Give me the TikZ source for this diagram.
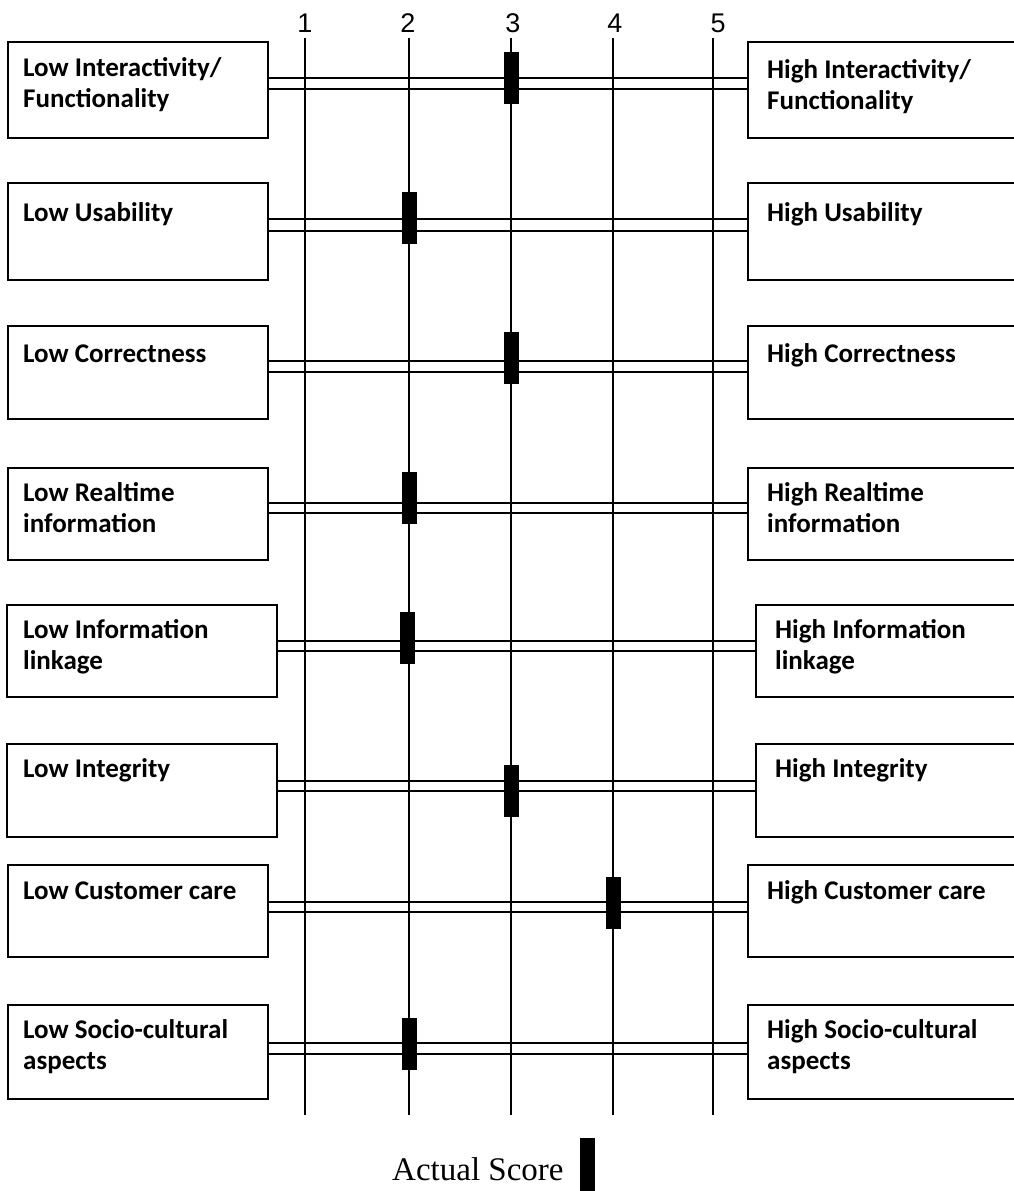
\documentclass[tikz,border=0pt]{standalone}
\usepackage{fontspec}
\setmainfont{Liberation Serif}
\newfontfamily\boxfont{Carlito}[Scale=1.0]
\newfontfamily\numfamily{Liberation Sans}
\newcommand{\twol}[2]{\vtop{\baselineskip=31pt\hbox{#1}\hbox{#2}}}
\tikzset{
  box/.style={draw, line width=2.2pt, minimum height=94pt, inner sep=0pt},
  lbox/.style={box, minimum width=260pt},
  rbox/.style={box, minimum width=272pt},
  lbl/.style={anchor=base west, inner sep=0pt, font=\boxfont\bfseries\fontsize{27}{31}\selectfont},
  axisline/.style={line width=2.7pt},
  rail/.style={line width=2.2pt},
  scorebar/.style={fill=black, draw=none, minimum width=15pt, minimum height=52pt, inner sep=0pt},
  num/.style={inner sep=0pt, font=\numfamily\fontsize{27}{30}\selectfont}
}
\begin{document}
\begin{tikzpicture}[x=1pt,y=-1pt]
\useasboundingbox[fill=white] (0,0) rectangle (1013,1191);

% boxes
\node[lbox, minimum height=96pt] (L1) at (138,90) {};
\node[rbox, minimum height=96pt] (R1) at (884,90) {};
\node[lbox, minimum height=97pt] (L2) at (138,231.5) {};
\node[rbox, minimum height=97pt] (R2) at (884,231.5) {};
\node[lbox, minimum height=93pt] (L3) at (138,372.5) {};
\node[rbox, minimum height=93pt] (R3) at (884,372.5) {};
\node[lbox, minimum height=92pt] (L4) at (138,514) {};
\node[rbox, minimum height=92pt] (R4) at (884,514) {};
\node[lbox, minimum height=92pt, minimum width=270pt] (L5) at (142,651) {};
\node[rbox, minimum height=92pt, minimum width=264pt] (R5) at (888,651) {};
\node[lbox, minimum height=93pt, minimum width=270pt] (L6) at (142,790.5) {};
\node[rbox, minimum height=93pt, minimum width=264pt] (R6) at (888,790.5) {};
\node[lbox, minimum height=92pt] (L7) at (138,911) {};
\node[rbox, minimum height=92pt] (R7) at (884,911) {};
\node[lbox, minimum height=94pt] (L8) at (138,1052) {};
\node[rbox, minimum height=94pt] (R8) at (884,1052) {};

% labels
\node[lbl] (tL1) at (23,76) {\twol{Low Interactivity/}{Functionality}};
\node[lbl] (tR1) at (767,78) {\twol{High Interactivity/}{Functionality}};
\node[lbl] (tL2) at (23,221) {Low Usability};
\node[lbl] (tR2) at (767,221) {High Usability};
\node[lbl] (tL3) at (23,362) {Low Correctness};
\node[lbl] (tR3) at (767,362) {High Correctness};
\node[lbl] (tL4) at (23,501) {\twol{Low Realtime}{information}};
\node[lbl] (tR4) at (767,501) {\twol{High Realtime}{information}};
\node[lbl] (tL5) at (23,638) {\twol{Low Information}{linkage}};
\node[lbl] (tR5) at (775,638) {\twol{High Information}{linkage}};
\node[lbl] (tL6) at (23,777) {Low Integrity};
\node[lbl] (tR6) at (775,777) {High Integrity};
\node[lbl] (tL7) at (23,899) {Low Customer care};
\node[lbl] (tR7) at (767,899) {High Customer care};
\node[lbl] (tL8) at (23,1038) {\twol{Low Socio-cultural}{aspects}};
\node[lbl] (tR8) at (767,1038) {\twol{High Socio-cultural}{aspects}};

% double rails
\draw[rail] ([yshift=12pt]L1.east) -- ([yshift=12pt]R1.west);
\draw[rail] ([yshift=1pt]L1.east) -- ([yshift=1pt]R1.west);
\draw[rail] ([yshift=12.5pt]L2.east) -- ([yshift=12.5pt]R2.west);
\draw[rail] ([yshift=0.5pt]L2.east) -- ([yshift=0.5pt]R2.west);
\draw[rail] ([yshift=11.5pt]L3.east) -- ([yshift=11.5pt]R3.west);
\draw[rail] ([yshift=0.5pt]L3.east) -- ([yshift=0.5pt]R3.west);
\draw[rail] ([yshift=11pt]L4.east) -- ([yshift=11pt]R4.west);
\draw[rail] ([yshift=1pt]L4.east) -- ([yshift=1pt]R4.west);
\draw[rail] ([yshift=10pt]L5.east) -- ([yshift=10pt]R5.west);
\draw[rail] ([yshift=0pt]L5.east) -- ([yshift=0pt]R5.west);
\draw[rail] ([yshift=9.5pt]L6.east) -- ([yshift=9.5pt]R6.west);
\draw[rail] ([yshift=-0.5pt]L6.east) -- ([yshift=-0.5pt]R6.west);
\draw[rail] ([yshift=9pt]L7.east) -- ([yshift=9pt]R7.west);
\draw[rail] ([yshift=-1pt]L7.east) -- ([yshift=-1pt]R7.west);
\draw[rail] ([yshift=9pt]L8.east) -- ([yshift=9pt]R8.west);
\draw[rail] ([yshift=-2pt]L8.east) -- ([yshift=-2pt]R8.west);

% scale numbers and axes
\node[num] (n1) at (305,23) {1};
\node[num] (n2) at (408,23) {2};
\node[num] (n3) at (513,23) {3};
\node[num] (n4) at (615,23) {4};
\node[num] (n5) at (718,23) {5};
\coordinate (a1) at (305,38);  \coordinate (b1) at (305,1115);
\coordinate (a2) at (409,38);  \coordinate (b2) at (409,1115);
\coordinate (a3) at (511,38);  \coordinate (b3) at (511,1115);
\coordinate (a4) at (613,38);  \coordinate (b4) at (613,1115);
\coordinate (a5) at (713,38);  \coordinate (b5) at (713,1115);
\draw[axisline] (a1) -- (b1);
\draw[axisline] (a2) -- (b2);
\draw[axisline] (a3) -- (b3);
\draw[axisline] (a4) -- (b4);
\draw[axisline] (a5) -- (b5);

% actual scores
\node[scorebar] (M1) at (511,77.5) {};
\node[scorebar] (M2) at (409,217.5) {};
\node[scorebar] (M3) at (511,357.5) {};
\node[scorebar] (M4) at (409,497.5) {};
\node[scorebar] (M5) at (407,638) {};
\node[scorebar] (M6) at (511,791) {};
\node[scorebar] (M7) at (613.5,903) {};
\node[scorebar] (M8) at (409,1043.5) {};

% legend
\node[anchor=base west, inner sep=0pt, font=\fontsize{33}{36}\selectfont] (leg) at (392,1180) {Actual Score};
\node[fill=black, draw=none, minimum width=15pt, minimum height=56pt, inner sep=0pt] (legbar) at (587.5,1166) {};
\end{tikzpicture}
\end{document}
